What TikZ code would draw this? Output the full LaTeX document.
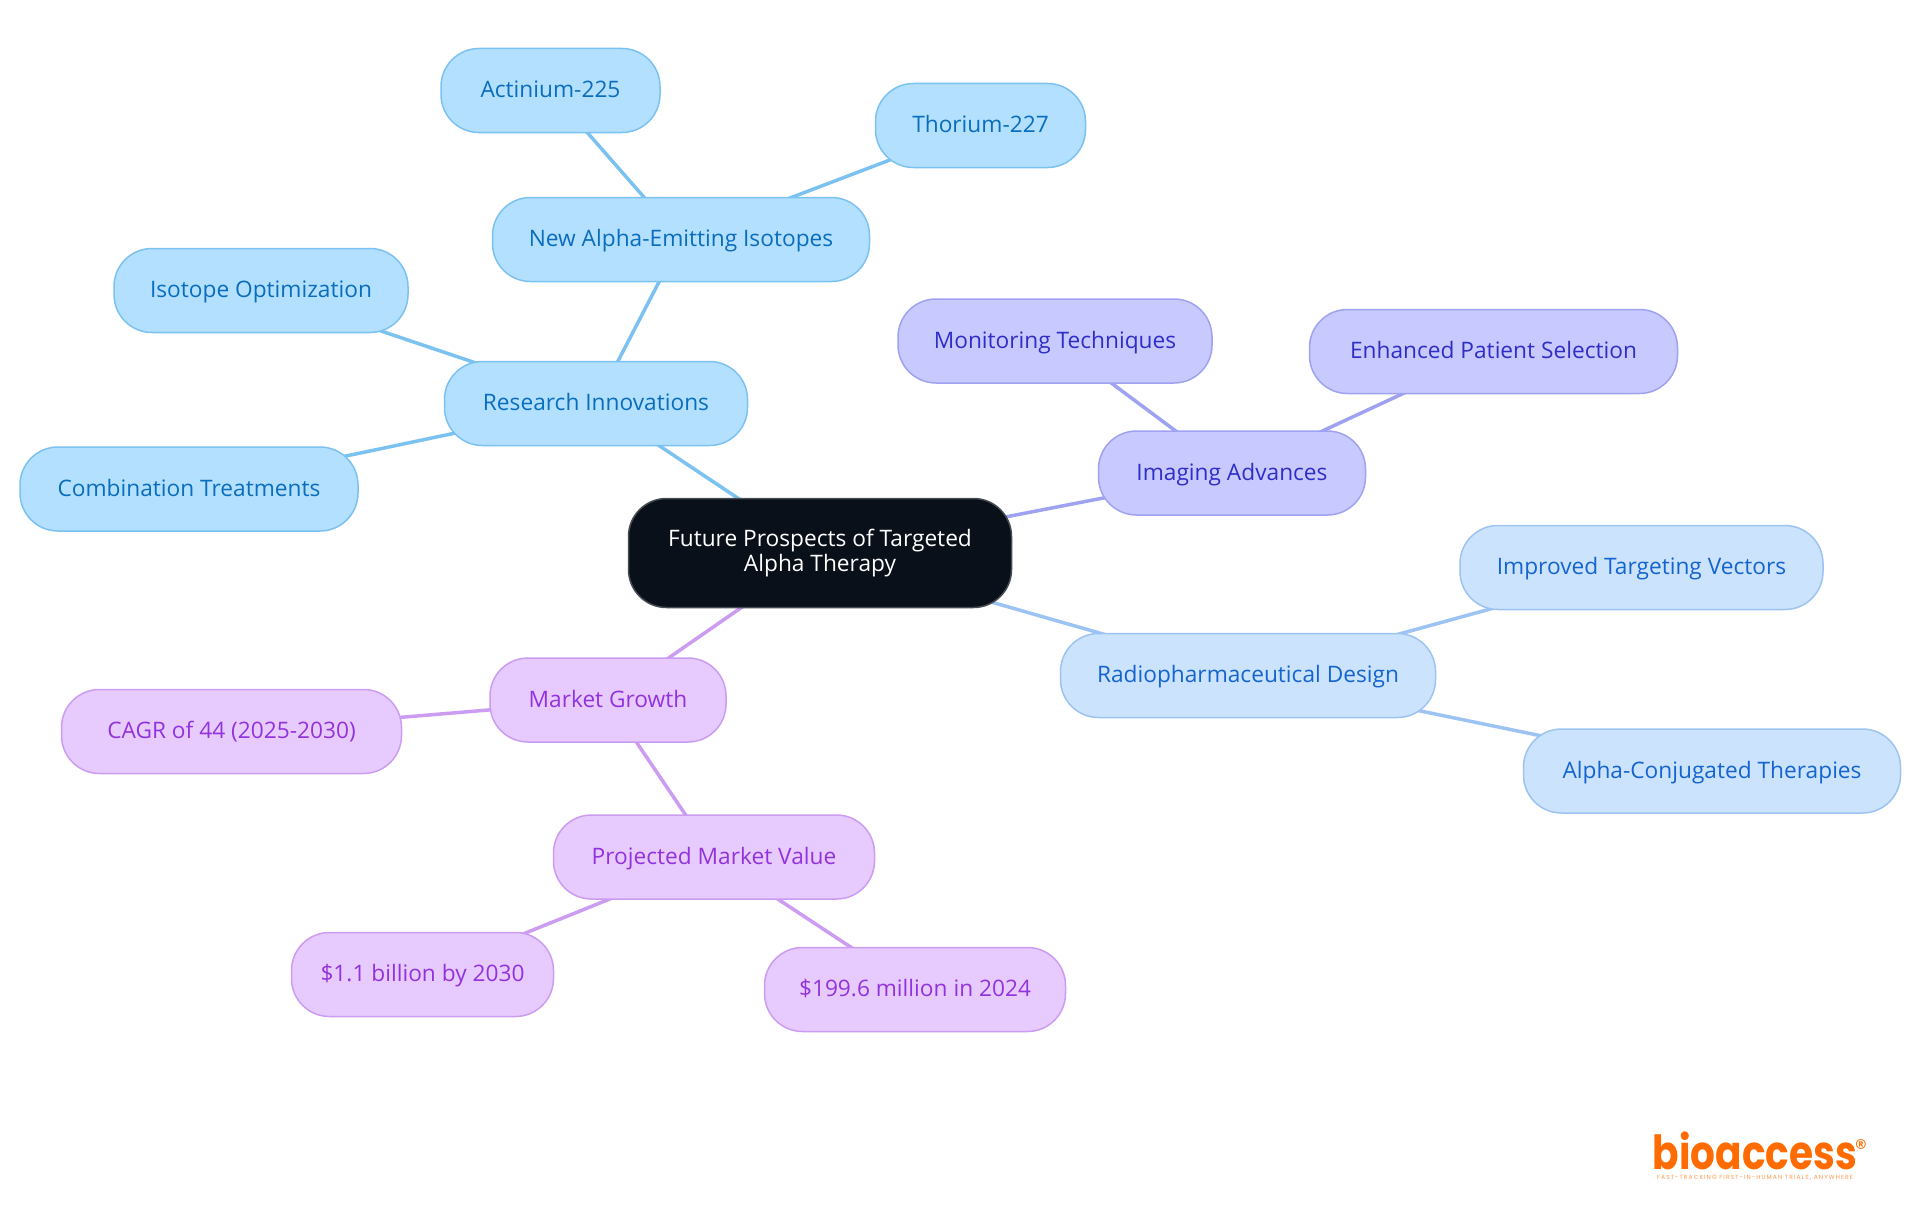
\documentclass[tikz,border=0pt]{standalone}
\usepackage{fontspec}
\setmainfont{Open Sans}
\newfontfamily\logofont{Poppins}
\newfontfamily\tagfont[LetterSpace=18]{Poppins}
\usetikzlibrary{backgrounds}
\definecolor{rootfill}{HTML}{0A1019}
\definecolor{bluefill}{HTML}{B3E0FF}
\definecolor{blueline}{HTML}{7CC2F0}
\definecolor{bluetext}{HTML}{0A6EBD}
\definecolor{indigofill}{HTML}{C8CAFF}
\definecolor{indigoline}{HTML}{9FA2F0}
\definecolor{indigotext}{HTML}{2F2FC8}
\definecolor{skyfill}{HTML}{CCE3FD}
\definecolor{skyline}{HTML}{9CC3F2}
\definecolor{skytext}{HTML}{1565D0}
\definecolor{purplefill}{HTML}{E7CBFF}
\definecolor{purpleline}{HTML}{CB9CF2}
\definecolor{purpletext}{HTML}{9333DD}
\definecolor{logoorange}{HTML}{FF6B00}
\tikzset{
	topic/.style={draw,line width=1.5pt,rounded corners=38pt,minimum height=84pt,inner sep=0pt,align=center,font=\fontsize{22.7}{25}\selectfont},
	leaf/.style={topic,text height=14.5pt,text depth=0pt},
	root node/.style={topic,fill=rootfill,draw=rootfill!75!white,text=white,minimum height=109pt},
	blue node/.style={leaf,fill=bluefill,draw=blueline,text=bluetext},
	indigo node/.style={leaf,fill=indigofill,draw=indigoline,text=indigotext},
	sky node/.style={leaf,fill=skyfill,draw=skyline,text=skytext},
	purple node/.style={leaf,fill=purplefill,draw=purpleline,text=purpletext},
	link/.style={line width=3.5pt}
}
\begin{document}
\begin{tikzpicture}[x=1pt,y=-1pt]
	\useasboundingbox (0,0) rectangle (1920,1215);
	\node[root node,minimum width=383pt] (root) at (820,553) {Future Prospects of Targeted\\Alpha Therapy};
	% research branch
	\node[blue node,minimum width=303pt] (research) at (596,403.5) {Research Innovations};
	\node[blue node,minimum width=377pt] (isotopes) at (681,239.5) {New Alpha-Emitting Isotopes};
	\node[blue node,minimum width=219pt] (actinium) at (550.5,90.5) {Actinium-225};
	\node[blue node,minimum width=210pt] (thorium) at (980.5,125.5) {Thorium-227};
	\node[blue node,minimum width=294pt] (optim) at (261,290.5) {Isotope Optimization};
	\node[blue node,minimum width=338pt] (combi) at (189,489) {Combination Treatments};
	% imaging branch
	\node[indigo node,minimum width=267pt] (imaging) at (1232,473) {Imaging Advances};
	\node[indigo node,minimum width=314pt] (monitor) at (1055,341) {Monitoring Techniques};
	\node[indigo node,minimum width=368pt] (patient) at (1493.5,351.5) {Enhanced Patient Selection};
	% design branch
	\node[sky node,minimum width=375pt] (design) at (1248,675.5) {Radiopharmaceutical Design};
	\node[sky node,minimum width=363pt] (vectors) at (1641.5,567.5) {Improved Targeting Vectors};
	\node[sky node,minimum width=377pt] (conj) at (1712,771) {Alpha-Conjugated Therapies};
	% market branch
	\node[purple node,minimum width=236pt] (market) at (608,700) {Market Growth};
	\node[purple node,minimum width=340pt] (cagr) at (231.5,731.5) {CAGR of 44 (2025-2030)};
	\node[purple node,minimum width=321pt] (value) at (714,857) {Projected Market Value};
	\node[purple node,minimum width=262pt] (billion) at (422.5,974.5) {\$1.1 billion by 2030};
	\node[purple node,minimum width=301pt] (million) at (915,989.5) {\$199.6 million in 2024};
	% logo
	\node[anchor=base,inner sep=0pt,xscale=.83,text=logoorange,font=\logofont\bfseries\fontsize{47}{47}\selectfont] (logo) at (1755,1169) {bioaccess};
	\node[inner sep=0pt,text=logoorange,font=\logofont\fontsize{24}{24}\selectfont] (reg) at (1861,1148) {®};
	\node[inner sep=0pt,text=logoorange!70!white,font=\tagfont\fontsize{6}{6}\selectfont] (tagline) at (1755,1177.5) {FAST-TRACKING FIRST-IN-HUMAN TRIALS, ANYWHERE};
	\begin{pgfonlayer}{background}
		\foreach \a/\b in {root/research,research/isotopes,isotopes/actinium,isotopes/thorium,research/optim,research/combi}
			\draw[link,blueline] (\a.center) -- (\b.center);
		\foreach \a/\b in {root/imaging,imaging/monitor,imaging/patient}
			\draw[link,indigoline] (\a.center) -- (\b.center);
		\foreach \a/\b in {root/design,design/vectors,design/conj}
			\draw[link,skyline] (\a.center) -- (\b.center);
		\foreach \a/\b in {root/market,market/cagr,market/value,value/billion,value/million}
			\draw[link,purpleline] (\a.center) -- (\b.center);
	\end{pgfonlayer}
\end{tikzpicture}
\end{document}
